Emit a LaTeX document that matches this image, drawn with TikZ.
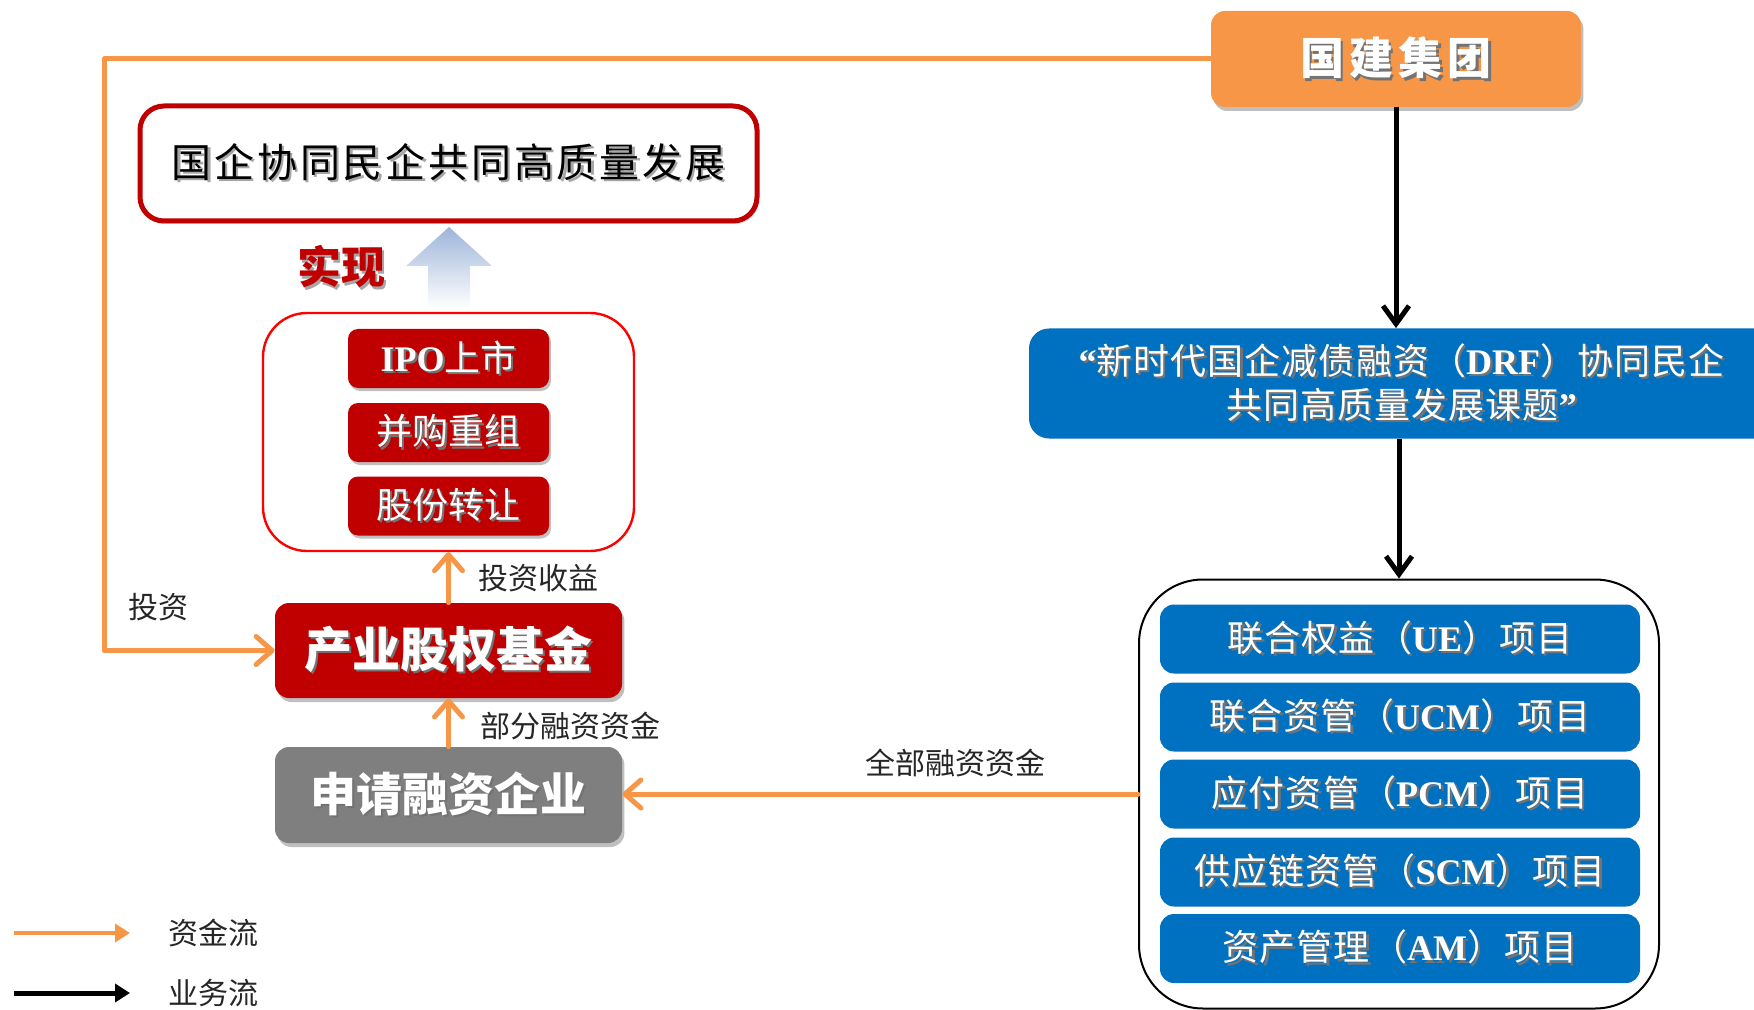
\documentclass[tikz,border=0pt]{standalone}
\usepackage{fontspec}
\setmainfont{Noto Sans CJK SC}
\newfontfamily\lat{Liberation Serif}
\usetikzlibrary{arrows.meta,shadows}
\definecolor{orgL}{HTML}{F79646}
\definecolor{dRed}{HTML}{C00000}
\definecolor{bBlue}{HTML}{0070C0}
\definecolor{gBox}{HTML}{7F7F7F}
\definecolor{arrB}{HTML}{9DB5DA}
\definecolor{lblC}{HTML}{262626}
\newcommand\sht[2][black!55]{\leavevmode\rlap{\raisebox{-1.2pt}{\hspace{1.2pt}\textcolor{#1}{#2}}}#2}
\tikzset{
  fillbox/.style={rounded corners=7pt, inner sep=0pt, align=center, text=white,
    drop shadow={shadow xshift=1.2pt,shadow yshift=-2pt,fill=black,opacity=0.25}},
  projbox/.style={fill=bBlue, rounded corners=7pt, inner sep=0pt, align=center, text=white,
    minimum width=240pt, minimum height=34.5pt, font=\fontsize{18}{20}\selectfont\addfontfeature{LetterSpace=3}},
  redbox/.style={fill=dRed, rounded corners=5pt, inner sep=0pt, align=center, text=white,
    minimum width=100.5pt, minimum height=29.5pt, font=\fontsize{18}{20}\selectfont,
    drop shadow={shadow xshift=1pt,shadow yshift=-1.5pt,fill=black,opacity=0.25}},
  lbl/.style={text=lblC, font=\fontsize{15}{17}\selectfont, inner sep=0pt},
  flowO/.style={draw=orgL, line width=2.5pt, line cap=round, line join=round,
    -{Straight Barb[length=8pt,width=14pt,round]}},
  flowB/.style={draw=black, line width=2.5pt,
    -{Straight Barb[length=9pt,width=13pt]}},
  legO/.style={draw=orgL, line width=2pt, -{Triangle[length=7.5pt,width=9pt]}},
  legB/.style={draw=black, line width=2.5pt, -{Triangle[length=7.5pt,width=9pt]}},
}
\begin{document}
\begin{tikzpicture}[x=0.5pt,y=-0.5pt]
\useasboundingbox (0,0) rectangle (1754,1010);

% top orange box
\node[fillbox, fill=orgL, minimum width=185pt, minimum height=48pt,
  font=\fontsize{22}{24}\selectfont\bfseries\addfontfeature{LetterSpace=12}] (gj) at (1396,59) {\sht{国建集团}};

% top red outlined goal box
\node[draw=dRed, line width=2.5pt, rounded corners=12pt, fill=white,
  minimum width=308.5pt, minimum height=57.5pt, inner sep=0pt,
  font=\fontsize{20}{22}\selectfont\addfontfeature{LetterSpace=7},
  drop shadow={shadow xshift=1pt,shadow yshift=-1.5pt,fill=black,opacity=0.15}]
  (goal) at (448.5,163.5) {\sht[black!35]{国企协同民企共同高质量发展}};

% realise label
\node[text=dRed, font=\fontsize{22}{24}\selectfont\bfseries, inner sep=0pt] (sx) at (341,268) {\sht[black!35]{实现}};

% gradient arrow
\shade[top color=arrB, bottom color=white]
  (428,308) -- (428,266) -- (406,266) -- (449,227) -- (492,266) -- (470,266) -- (470,308) -- cycle;

% red container
\node[draw=red, line width=1.2pt, rounded corners=22pt, minimum width=185.5pt,
  minimum height=119pt, inner sep=0pt] (rc) at (448.5,432) {};
\node[redbox] (ipo) at (448.5,358.5) {\sht{{\lat\bfseries IPO}上市}};
\node[redbox] (bg) at (448.5,432.5) {\sht{并购重组}};
\node[redbox] (gf) at (448.5,506) {\sht{股份转让}};

% fund
\node[fillbox, fill=dRed, minimum width=173.5pt, minimum height=47.5pt,
  font=\fontsize{24}{26}\selectfont\bfseries] (fund) at (448.5,650.5) {\sht{产业股权基金}};

% firm
\node[fillbox, fill=gBox, minimum width=173.5pt, minimum height=48pt,
  font=\fontsize{23}{25}\selectfont\bfseries] (firm) at (448.5,795) {\sht{申请融资企业}};

% DRF box
\node[fill=bBlue, rounded corners=10pt, minimum width=372.5pt, minimum height=55pt,
  inner sep=0pt, align=center, text=white, font=\fontsize{18}{22}\selectfont\addfontfeature{LetterSpace=3}]
  (drf) at (1401.5,383.5)
  {\sht{{\lat\bfseries “}新时代国企减债融资（{\lat\bfseries DRF}）协同民企}\\
   \sht{共同高质量发展课题{\lat\bfseries ”}}};

% project container
\node[draw=black, line width=1pt, rounded corners=32pt, minimum width=260pt,
  minimum height=214.5pt, inner sep=0pt] (pc) at (1399,794) {};
\node[projbox] (p1) at (1400,639) {\sht{联合权益（{\lat\bfseries UE}）项目}};
\node[projbox] (p2) at (1400,717) {\sht{联合资管（{\lat\bfseries UCM}）项目}};
\node[projbox] (p3) at (1400,794) {\sht{应付资管（{\lat\bfseries PCM}）项目}};
\node[projbox] (p4) at (1400,872) {\sht{供应链资管（{\lat\bfseries SCM}）项目}};
\node[projbox] (p5) at (1400,948.5) {\sht{资产管理（{\lat\bfseries AM}）项目}};

% connectors
\coordinate (cl) at (104,59);
\draw[flowO] (gj.west) -- (cl) |- (fund.west);
\draw[flowO] (fund.north) -- (rc.south);
\draw[flowO] (firm.north) -- (fund.south);
\draw[flowO] (pc.west) -- (pc.west -| firm.east);
\draw[flowB] (gj.south) -- (gj.south |- drf.north);
\draw[flowB] (pc.north |- drf.south) -- (pc.north);

% labels
\node[lbl] (l1) at (538,578) {投资收益};
\node[lbl] (l2) at (158,607) {投资};
\node[lbl] (l3) at (570,726) {部分融资资金};
\node[lbl] (l4) at (955,763) {全部融资资金};

% legend
\coordinate (la1) at (14,933);
\coordinate (la2) at (130,933);
\coordinate (lb1) at (14,993);
\coordinate (lb2) at (130,993);
\draw[legO] (la1) -- (la2);
\draw[legB] (lb1) -- (lb2);
\node[lbl] (lt1) at (213,933) {资金流};
\node[lbl] (lt2) at (213,993) {业务流};
\end{tikzpicture}
\end{document}
